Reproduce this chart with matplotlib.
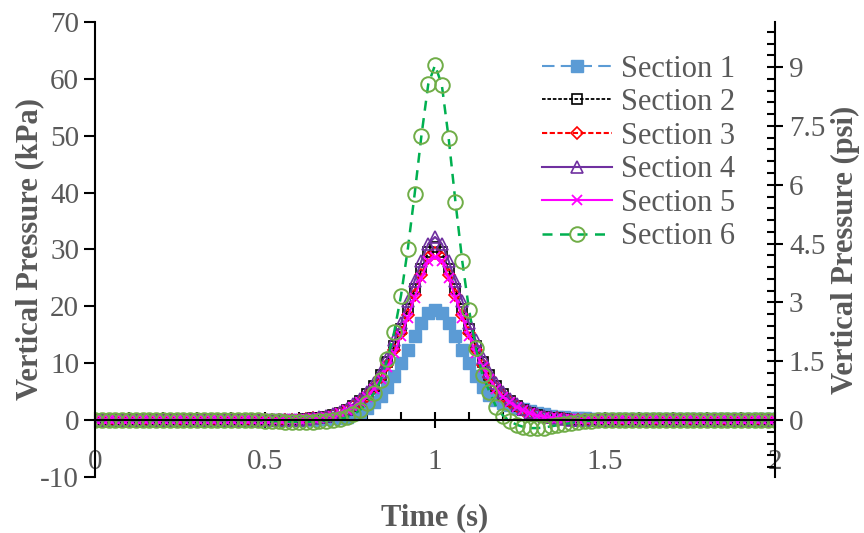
import numpy as np
import matplotlib
matplotlib.use("Agg")
import matplotlib.pyplot as plt
from matplotlib.ticker import MultipleLocator, FuncFormatter

plt.rcParams['font.family'] = ['Liberation Serif', 'DejaVu Serif']
plt.rcParams['axes.unicode_minus'] = False

# time axis (s), 0.02 s steps
zaman = np.linspace(0, 2, 101)

# vertical pressure (kPa)
sec1 = [0.1, 0.1, 0.1, 0.1, 0.1, 0.1, 0.1, 0.1, 0.1, 0.1, 0.1, 0.1, 0.1, 0.1, 0.1, 0.1,
        0.1, 0.1, 0.1, 0.1, 0.1, 0.1, 0.1, 0.1, 0.1, 0.1, 0.1, 0.1, 0.1, 0.1, 0.1,
        0.1, 0.1, 0.2, 0.2, 0.3, 0.4, 0.6, 1.0, 1.5, 2.2, 3.1, 4.3, 5.9, 7.8, 10.0, 12.3, 14.8, 17.0, 18.8,
        19.3,
        18.8, 17.0, 14.8, 12.3, 10.0, 7.8, 5.9, 4.5, 3.5, 3.0, 2.6, 2.2, 1.9, 1.6, 1.3, 1.0, 0.8, 0.6, 0.5,
        0.4, 0.3, 0.3, 0.2, 0.2, 0.2, 0.2, 0.2, 0.2, 0.2, 0.2, 0.2, 0.2, 0.2, 0.2, 0.2,
        0.2, 0.2, 0.2, 0.2, 0.2, 0.2, 0.2, 0.2, 0.2, 0.2, 0.2, 0.2, 0.2, 0.2, 0.2]
sec2 = [0.1, 0.1, 0.1, 0.1, 0.1, 0.1, 0.1, 0.1, 0.1, 0.1, 0.1, 0.1, 0.1, 0.1, 0.1, 0.1,
        0.1, 0.1, 0.1, 0.1, 0.1, 0.1, 0.1, 0.1, 0.1, 0.1, 0.1, 0.1, 0.1, 0.1, 0.1,
        0.2, 0.3, 0.4, 0.6, 0.9, 1.3, 1.8, 2.5, 3.4, 4.6, 6.0, 8.0, 10.3, 13.0, 16.0, 19.5, 23.0, 26.5, 29.5,
        30.5,
        29.5, 26.5, 23.0, 19.5, 16.0, 13.0, 10.3, 8.0, 6.0, 4.6, 3.4, 2.5, 1.8, 1.3, 0.9, 0.6, 0.4, 0.3, 0.2,
        0.1, 0.1, 0.1, 0.1, 0.1, 0.1, 0.1, 0.1, 0.1, 0.1, 0.1, 0.1, 0.1, 0.1, 0.1, 0.1,
        0.1, 0.1, 0.1, 0.1, 0.1, 0.1, 0.1, 0.1, 0.1, 0.1, 0.1, 0.1, 0.1, 0.1, 0.1]
sec3 = [0.1, 0.1, 0.1, 0.1, 0.1, 0.1, 0.1, 0.1, 0.1, 0.1, 0.1, 0.1, 0.1, 0.1, 0.1, 0.1,
        0.1, 0.1, 0.1, 0.1, 0.1, 0.1, 0.1, 0.1, 0.1, 0.1, 0.1, 0.1, 0.1, 0.1, 0.1,
        0.2, 0.3, 0.4, 0.6, 0.9, 1.2, 1.7, 2.4, 3.2, 4.3, 5.7, 7.5, 9.7, 12.3, 15.3, 18.5, 22.0, 25.5, 28.5,
        29.3,
        28.5, 25.5, 22.0, 18.5, 15.3, 12.3, 9.7, 7.5, 5.7, 4.3, 3.2, 2.4, 1.7, 1.2, 0.9, 0.6, 0.4, 0.3, 0.2,
        0.1, 0.1, 0.1, 0.1, 0.1, 0.1, 0.1, 0.1, 0.1, 0.1, 0.1, 0.1, 0.1, 0.1, 0.1, 0.1,
        0.1, 0.1, 0.1, 0.1, 0.1, 0.1, 0.1, 0.1, 0.1, 0.1, 0.1, 0.1, 0.1, 0.1, 0.1]
sec4 = [0.0, 0.0, 0.0, 0.0, 0.0, 0.0, 0.0, 0.0, 0.0, 0.0, 0.0, 0.0, 0.0, 0.0, 0.0, 0.0,
        0.0, 0.0, 0.0, 0.0, 0.0, 0.0, 0.0, 0.0, 0.0, 0.0, 0.0, 0.0, 0.0, 0.0, 0.1,
        0.2, 0.3, 0.5, 0.7, 1.0, 1.4, 2.0, 2.8, 3.8, 5.0, 6.5, 8.5, 11.0, 14.0, 17.0, 21.0, 24.5, 28.0, 31.0,
        32.2,
        31.0, 28.0, 24.5, 21.0, 17.0, 14.0, 11.0, 8.5, 6.5, 5.0, 3.8, 2.8, 2.0, 1.4, 1.0, 0.7, 0.5, 0.3, 0.2,
        0.1, 0.0, 0.0, 0.0, 0.0, 0.0, 0.0, 0.0, 0.0, 0.0, 0.0, 0.0, 0.0, 0.0, 0.0, 0.0,
        0.0, 0.0, 0.0, 0.0, 0.0, 0.0, 0.0, 0.0, 0.0, 0.0, 0.0, 0.0, 0.0, 0.0, 0.0]
sec5 = [0.2, 0.2, 0.2, 0.2, 0.2, 0.2, 0.2, 0.2, 0.2, 0.2, 0.2, 0.2, 0.2, 0.2, 0.2, 0.2,
        0.2, 0.2, 0.2, 0.2, 0.2, 0.2, 0.2, 0.2, 0.2, 0.2, 0.2, 0.2, 0.2, 0.2, 0.2,
        0.2, 0.3, 0.4, 0.6, 0.8, 1.2, 1.7, 2.3, 3.1, 4.1, 5.5, 7.2, 9.3, 11.8, 14.8, 18.0, 21.5, 25.0, 28.0,
        28.6,
        28.0, 25.0, 21.5, 18.0, 14.8, 11.8, 9.3, 7.2, 5.5, 4.1, 3.1, 2.3, 1.7, 1.2, 0.8, 0.6, 0.4, 0.3, 0.2,
        0.2, 0.2, 0.2, 0.2, 0.2, 0.2, 0.2, 0.2, 0.2, 0.2, 0.2, 0.2, 0.2, 0.2, 0.2, 0.2,
        0.2, 0.2, 0.2, 0.2, 0.2, 0.2, 0.2, 0.2, 0.2, 0.2, 0.2, 0.2, 0.2, 0.2, 0.2]
sec6 = [0.0, 0.0, 0.0, 0.0, 0.0, 0.0, 0.0, 0.0, 0.0, 0.0, 0.0, 0.0, 0.0, 0.0, 0.0, 0.0,
        0.0, 0.0, 0.0, 0.0, 0.0, 0.0, 0.0, 0.0, 0.0, -0.1, -0.2, -0.2, -0.3, -0.3, -0.3,
        -0.3, -0.3, -0.2, -0.1, 0.0, 0.2, 0.5, 1.0, 1.8, 3.0, 4.7, 7.0, 10.8, 15.5, 21.9, 30.1, 39.7, 50.0, 59.0,
        62.4,
        58.9, 49.6, 38.4, 28.0, 19.4, 12.7, 7.9, 5.0, 2.3, 0.8, -0.2, -0.8, -1.2, -1.4, -1.4, -1.3, -1.1, -0.9, -0.7,
        -0.5, -0.3, -0.2, -0.1, 0.0, 0.0, 0.0, 0.0, 0.0, 0.0, 0.0, 0.0, 0.0, 0.0, 0.0, 0.0,
        0.0, 0.0, 0.0, 0.0, 0.0, 0.0, 0.0, 0.0, 0.0, 0.0, 0.0, 0.0, 0.0, 0.0, 0.0]

etiketler = ["Section 1", "Section 2", "Section 3", "Section 4", "Section 5", "Section 6"]
gri = "#595959"

fig = plt.figure(figsize=(8.64, 5.33), dpi=100)
eksen = fig.add_axes([0.11, 0.105, 0.787, 0.854])

eksen.plot(zaman, sec1, color="#5B9BD5", ls=(0, (6, 3)), lw=1.5, marker="s", ms=8,
           mfc="#5B9BD5", mec="#5B9BD5", label=etiketler[0])
eksen.plot(zaman, sec2, color="black", ls=(0, (2, 1)), lw=1.3, marker="s", ms=7,
           mfc="none", mec="black", mew=1.2, label=etiketler[1])
eksen.plot(zaman, sec3, color="#FF0000", ls=(0, (2.5, 1.2)), lw=1.5, marker="D", ms=6,
           mfc="none", mec="#FF0000", mew=1.2, label=etiketler[2])
eksen.plot(zaman, sec4, color="#7030A0", ls="-", lw=1.5, marker="^", ms=9,
           mfc="none", mec="#7030A0", mew=1.2, label=etiketler[3])
eksen.plot(zaman, sec5, color="#FF00FF", ls="-", lw=1.5, marker="x", ms=7,
           mec="#FF00FF", mew=1.3, label=etiketler[4])
eksen.plot(zaman, sec6, color="#00B050", ls=(0, (4, 3)), lw=1.8, marker="o", ms=10.5,
           mfc="none", mec="#70AD47", mew=1.4, label=etiketler[5])

eksen.set_xlim(0, 2)
eksen.set_ylim(-10, 70)
eksen.xaxis.set_major_locator(MultipleLocator(0.5))
eksen.xaxis.set_minor_locator(MultipleLocator(0.1))
eksen.yaxis.set_major_locator(MultipleLocator(10))
eksen.xaxis.set_major_formatter(FuncFormatter(lambda v, p: "%g" % v))

eksen.spines["top"].set_visible(False)
eksen.spines["right"].set_visible(False)
eksen.spines["bottom"].set_position(("data", 0))
eksen.spines["bottom"].set_linewidth(1.5)
eksen.spines["left"].set_linewidth(1.5)

eksen.tick_params(axis="x", which="major", direction="inout", length=12, width=1.5,
                  labelsize=21, labelcolor=gri, pad=15)
eksen.tick_params(axis="x", which="minor", direction="in", length=6, width=1.5)
eksen.tick_params(axis="y", which="major", direction="out", length=8, width=1.5,
                  labelsize=21, labelcolor=gri)

eksen.set_xlabel("Time (s)", fontsize=22, fontweight="bold", color=gri, labelpad=20)
eksen.set_ylabel("Vertical Pressure (kPa)", fontsize=22, fontweight="bold", color=gri, labelpad=-3)

# psi ekseni
eksen2 = eksen.twinx()
eksen2.set_ylim(-10 / 6.895, 70 / 6.895)
eksen2.yaxis.set_major_locator(MultipleLocator(1.5))
eksen2.yaxis.set_minor_locator(MultipleLocator(0.3))
eksen2.yaxis.set_major_formatter(FuncFormatter(lambda v, p: "%g" % round(v, 2)))
for s in ["top", "left", "bottom"]:
    eksen2.spines[s].set_visible(False)
eksen2.spines["right"].set_linewidth(1.5)
eksen2.tick_params(axis="y", which="major", direction="inout", length=12, width=1.5,
                   labelsize=21, labelcolor=gri, pad=4)
eksen2.tick_params(axis="y", which="minor", direction="in", length=6, width=1.5)
eksen2.set_ylabel("Vertical Pressure (psi)", fontsize=22, fontweight="bold", color=gri, labelpad=4)

eksen.legend(loc="upper right", bbox_to_anchor=(0.96, 0.955), frameon=False, fontsize=22,
             labelcolor=gri, handlelength=2.3, handletextpad=0.3, labelspacing=0.15,
             borderaxespad=0)

fig.savefig("out.png", dpi=100)
